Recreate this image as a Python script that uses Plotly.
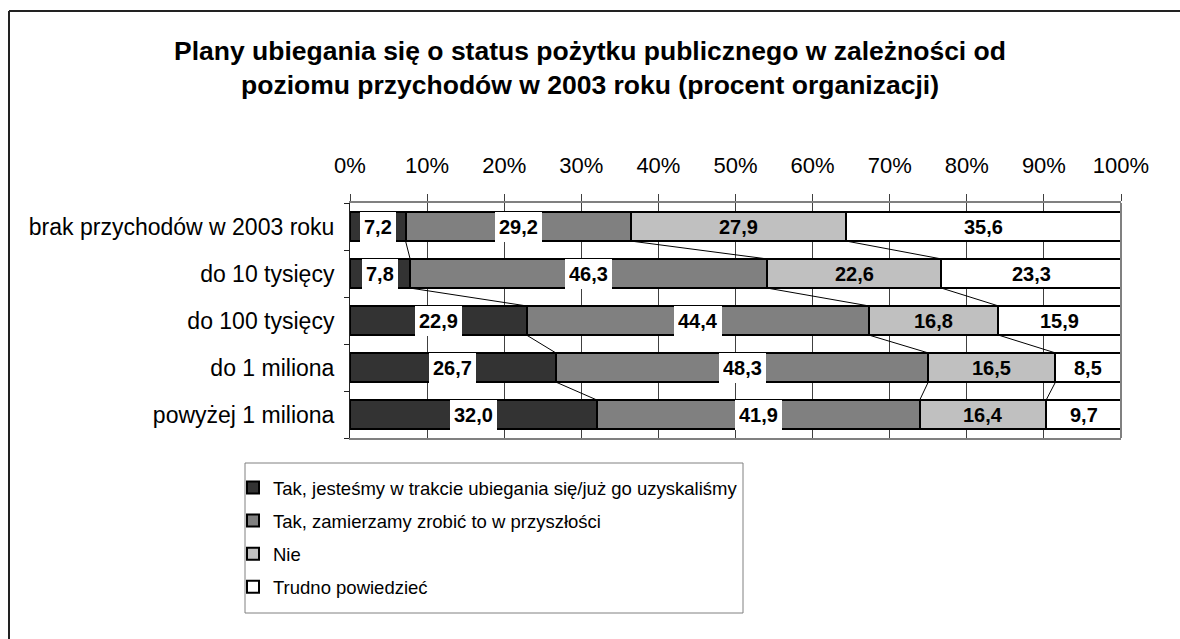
import plotly.graph_objects as go
import numpy as np

categories = ["brak przychodów w 2003 roku", "do 10 tysięcy", "do 100 tysięcy",
              "do 1 miliona", "powyżej 1 miliona"]
series_names = ["Tak, jesteśmy w trakcie ubiegania się/już go uzyskaliśmy",
                "Tak, zamierzamy zrobić to w przyszłości",
                "Nie",
                "Trudno powiedzieć"]
tak_w_trakcie = [7.2, 7.8, 22.9, 26.7, 32.0]
tak_zamierzamy = [29.2, 46.3, 44.4, 48.3, 41.9]
nie = [27.9, 22.6, 16.8, 16.5, 16.4]
trudno = [35.6, 23.3, 15.9, 8.5, 9.7]
x_ticks = [0, 10, 20, 30, 40, 50, 60, 70, 80, 90, 100]

colors = ["#333333", "#808080", "#c0c0c0", "#ffffff"]
label_bg = ["white", "white", "rgba(0,0,0,0)", "rgba(0,0,0,0)"]
FONT = "Liberation Sans, Arial, sans-serif"
BAR_W = 0.62

series = [tak_w_trakcie, tak_zamierzamy, nie, trudno]
vals = np.array(series, dtype=float)
norm = vals / vals.sum(axis=0) * 100.0
cum = np.cumsum(norm, axis=0)
ypos = np.arange(len(categories))

fig = go.Figure()
for i, name in enumerate(series_names):
    fig.add_trace(go.Bar(
        y=ypos, x=series[i], name=name, orientation="h", width=BAR_W,
        marker=dict(color=colors[i], line=dict(color="black", width=2)),
        legendgroup=f"g{i}", hoverinfo="skip",
    ))

# series lines (connect segment ends between consecutive bars)
lx, ly = [], []
for i in range(len(series) - 1):
    for r in range(len(categories) - 1):
        lx += [cum[i][r], cum[i][r + 1], None]
        ly += [ypos[r] + BAR_W / 2, ypos[r + 1] - BAR_W / 2, None]
fig.add_trace(go.Scatter(x=lx, y=ly, mode="lines", line=dict(color="black", width=1),
                         showlegend=False, hoverinfo="skip"))

# data labels
for i in range(len(series)):
    for r in range(len(categories)):
        center = cum[i][r] - norm[i][r] / 2
        fig.add_annotation(
            x=center, y=ypos[r], xref="x", yref="y",
            text=f"{series[i][r]:.1f}".replace(".", ","),
            showarrow=False, bgcolor=label_bg[i], borderpad=4, borderwidth=0,
            height=22,
            font=dict(family=FONT, size=20, color="black", weight="bold"),
        )

W, H = 1180, 639
L, R, T, B = 350, 59, 203, 201
pw = W - L - R
ph = H - T - B

def px_to_paper_x(px):
    return (px - L) / pw

def px_to_paper_y(py):
    return (H - B - py) / ph

# outer frame (top and left visible)
fig.add_shape(type="line", xref="paper", yref="paper",
              x0=px_to_paper_x(9), x1=px_to_paper_x(1200),
              y0=px_to_paper_y(11), y1=px_to_paper_y(11),
              line=dict(color="#222222", width=2))
fig.add_shape(type="line", xref="paper", yref="paper",
              x0=px_to_paper_x(9), x1=px_to_paper_x(9),
              y0=px_to_paper_y(11), y1=px_to_paper_y(660),
              line=dict(color="#222222", width=2))
# plot area right border
fig.add_shape(type="line", xref="paper", yref="paper", x0=1, x1=1, y0=0, y1=1,
              line=dict(color="#808080", width=2))
# legend frame
fig.add_shape(type="rect", xref="paper", yref="paper",
              x0=px_to_paper_x(245), x1=px_to_paper_x(743),
              y0=px_to_paper_y(613), y1=px_to_paper_y(463),
              line=dict(color="#808080", width=1), fillcolor="rgba(0,0,0,0)")

fig.update_layout(
    width=W, height=H,
    margin=dict(l=L, r=R, t=T, b=B, autoexpand=False),
    paper_bgcolor="white", plot_bgcolor="white",
    barmode="stack", barnorm="percent",
    font=dict(family=FONT, color="black"),
    title=dict(
        text="Plany ubiegania się o status pożytku publicznego w zależności od<br>poziomu przychodów w 2003 roku (procent organizacji)",
        x=0.5, xref="container", xanchor="center",
        y=1 - 60 / H, yref="container", yanchor="top",
        font=dict(family=FONT, size=26.5, color="black", weight="bold"),
    ),
    xaxis=dict(
        side="top", range=[0, 100], tickvals=x_ticks,
        ticktext=[f"{t}%" for t in x_ticks],
        showgrid=True, gridcolor="#404040", gridwidth=1,
        showline=True, linecolor="#808080", linewidth=2, mirror=True,
        ticks="outside", ticklen=7, tickcolor="#404040", tickwidth=1,
        tickfont=dict(family=FONT, size=22, color="black"),
        ticklabelstandoff=12, zeroline=False, fixedrange=True,
    ),
    yaxis=dict(
        range=[len(categories) - 0.5, -0.5], tickvals=list(ypos), ticktext=categories,
        showgrid=False, zeroline=False,
        showline=True, linecolor="#222222", linewidth=1,
        ticks="", tickfont=dict(family=FONT, size=23, color="black"),
        ticklabelstandoff=10,
        minor=dict(tickvals=list(np.arange(len(categories) + 1) - 0.5), ticks="outside",
                   ticklen=5, tickcolor="#222222", tickwidth=1, showgrid=False),
        fixedrange=True,
    ),
    legend=dict(
        xref="container", yref="container",
        x=233 / W, y=1 - 469 / H, xanchor="left", yanchor="top",
        borderwidth=0, bgcolor="rgba(0,0,0,0)",
        font=dict(family=FONT, size=18.5, color="black"),
        traceorder="grouped", tracegroupgap=6, itemclick=False,
    ),
    showlegend=True,
)

fig.write_html("out.html",
               config={"displayModeBar": False},
               post_script="document.body.style.margin='0';document.body.style.padding='0';")
